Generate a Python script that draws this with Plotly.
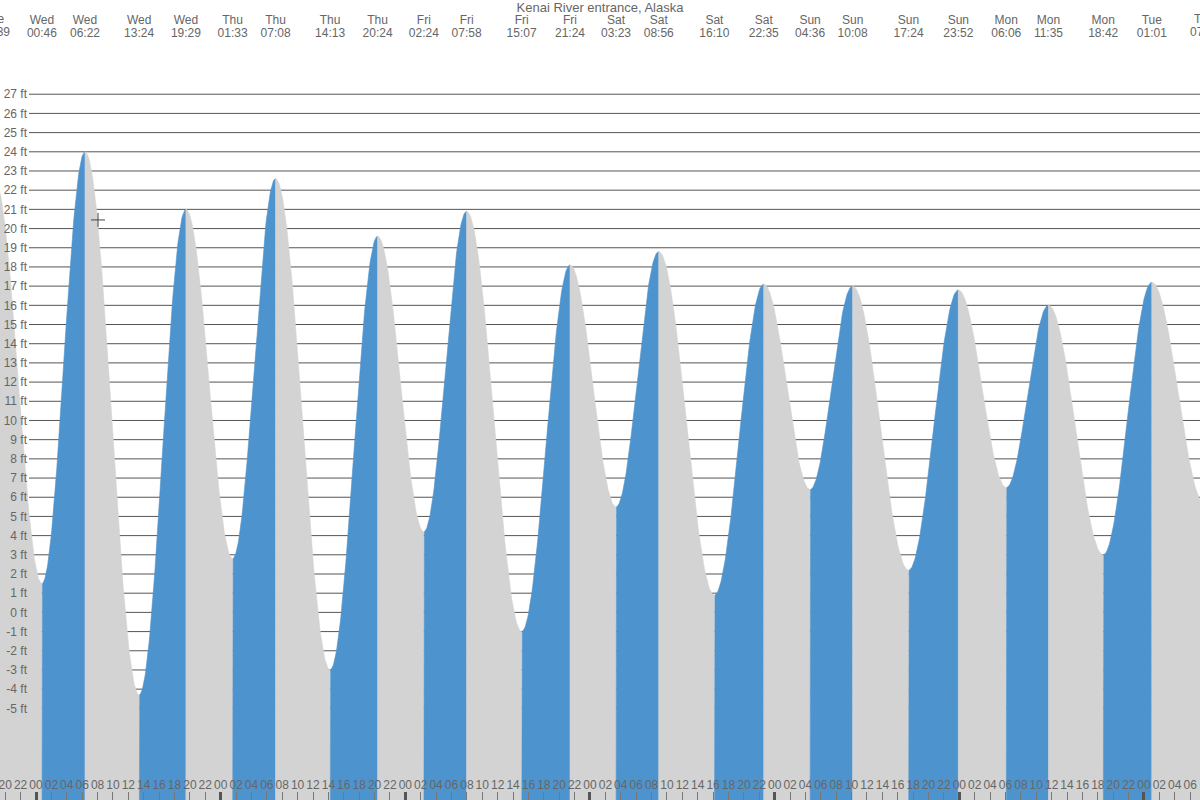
import numpy as np
import plotly.graph_objects as go

# ---------------- data ----------------
title_text = "Kenai River entrance, Alaska"
tide_days = ["Tue", "Wed", "Wed", "Wed", "Wed", "Thu", "Thu", "Thu", "Thu",
             "Fri", "Fri", "Fri", "Fri", "Sat", "Sat", "Sat", "Sat",
             "Sun", "Sun", "Sun", "Sun", "Mon", "Mon", "Mon", "Tue", "Tue"]
tide_times = ["18:39", "00:46", "06:22", "13:24", "19:29", "01:33", "07:08", "14:13", "20:24",
              "02:24", "07:58", "15:07", "21:24", "03:23", "08:56", "16:10", "22:35",
              "04:36", "10:08", "17:24", "23:52", "06:06", "11:35", "18:42", "01:01", "07:55"]
tide_heights = [22.5, 1.5, 24.0, -4.3, 21.0, 2.8, 22.6, -3.0, 19.6,
                4.2, 20.9, -1.0, 18.1, 5.5, 18.8, 0.9, 17.1,
                6.4, 17.0, 2.2, 16.8, 6.5, 16.0, 3.0, 17.2, 5.6]
day_sequence = ["Tue", "Wed", "Thu", "Fri", "Sat", "Sun", "Mon", "Tue"]  # first Wed = day 0
height_ticks = list(range(-5, 28))
cursor_x = [8.06]
cursor_y = [20.45]

# ---------------- layout constants ----------------
W, H = 1200, 800
x_range = [-4.679, 151.28]          # hours since Wed 00:00
y_range = [-9.776, 31.91]           # feet
BLUE = "#4d94cf"
GREY = "#d3d3d3"
TXT = "#666666"
FONT = "Liberation Sans, Arial, sans-serif"

# convert day/time labels to hours since Wed 00:00
hours = []
idx = 0
for d, t in zip(tide_days, tide_times):
    while day_sequence[idx] != d:
        idx += 1
    hh, mm = t.split(":")
    hours.append((idx - 1) * 24 + int(hh) + int(mm) / 60.0)

fig = go.Figure()

# tide curve: rising segments blue, falling grey, filled to the bottom
base = y_range[0] - 5
for i in range(len(hours) - 1):
    t0, t1 = hours[i], hours[i + 1]
    h0, h1 = tide_heights[i], tide_heights[i + 1]
    tt = np.linspace(t0, t1, 80)
    hh = h0 + (h1 - h0) * (1 - np.cos(np.pi * (tt - t0) / (t1 - t0))) / 2
    col = BLUE if h1 > h0 else GREY
    xs = [t0] + list(tt) + [t1]
    ys = [base] + list(hh) + [base]
    fig.add_trace(go.Scatter(x=xs, y=ys, mode="lines", fill="toself", fillcolor=col,
                             line=dict(color=col, width=0.6), hoverinfo="skip",
                             showlegend=False))

# cursor cross
fig.add_trace(go.Scatter(x=cursor_x, y=cursor_y, mode="markers",
                         marker=dict(symbol="cross-thin", size=10,
                                     line=dict(color="#444444", width=1)),
                         hoverinfo="skip", showlegend=False))

# horizontal grid lines (only from the label column to the right edge)
for v in height_ticks:
    fig.add_shape(type="line", xref="paper", yref="y", x0=29 / W, x1=1, y0=v, y1=v,
                  line=dict(color="#555555", width=1), layer="below")

hour_ticks = list(range(-4, 151, 2))
hour_text = [f"{h % 24:02d}" for h in hour_ticks]
midnights = list(range(0, 145, 24))

# split top labels: inside the range -> axis ticks, at the edges -> paper annotations
span = x_range[1] - x_range[0]
in_idx = [i for i, h in enumerate(hours) if x_range[0] <= h <= x_range[1]]
out_idx = [i for i, h in enumerate(hours) if not (x_range[0] <= h <= x_range[1])]

fig.update_layout(
    width=W, height=H,
    margin=dict(l=0, r=0, t=0, b=0, pad=0),
    paper_bgcolor="white", plot_bgcolor="white",
    font=dict(family=FONT, color=TXT, size=12),
    title=dict(text=title_text, x=0.5, xanchor="center", y=1 - 7 / H, yanchor="middle",
               font=dict(size=13, color=TXT, family=FONT)),
    showlegend=False,
    hovermode=False,
    xaxis=dict(range=x_range, tickvals=hour_ticks, ticktext=hour_text, tickangle=0,
               ticks="inside", ticklen=8, tickwidth=1, tickcolor="#777777",
               ticklabelposition="inside", ticklabeloverflow="allow",
               tickfont=dict(size=12, color=TXT),
               showgrid=False, zeroline=False, showline=False, fixedrange=True),
    xaxis2=dict(range=x_range, overlaying="x", anchor="y", side="bottom",
                tickvals=midnights, ticks="inside", ticklen=8, tickwidth=3,
                tickcolor="#555555", showticklabels=False,
                showgrid=False, zeroline=False, showline=False),
    xaxis3=dict(range=x_range, overlaying="x", anchor="free", position=1 - 26 / H,
                side="top", tickvals=[hours[i] for i in in_idx],
                ticktext=[tide_days[i] for i in in_idx], ticks="", tickangle=0,
                tickfont=dict(size=12, color=TXT),
                showgrid=False, zeroline=False, showline=False),
    xaxis4=dict(range=x_range, overlaying="x", anchor="free", position=1 - 39 / H,
                side="top", tickvals=[hours[i] for i in in_idx],
                ticktext=[tide_times[i] for i in in_idx], ticks="", tickangle=0,
                tickfont=dict(size=12, color=TXT),
                showgrid=False, zeroline=False, showline=False),
    yaxis=dict(range=y_range, tickvals=height_ticks,
               ticktext=[f"{v} ft" for v in height_ticks],
               anchor="free", position=27 / W, side="left", ticks="",
               tickfont=dict(size=12, color=TXT),
               showgrid=False, zeroline=False, showline=False, fixedrange=True),
)

# partially visible labels at the left/right edges
for i in out_idx:
    xp = (hours[i] - x_range[0]) / span
    fig.add_annotation(x=xp, xref="paper", y=1 - 19 / H, yref="paper", text=tide_days[i],
                       showarrow=False, xanchor="center", yanchor="middle",
                       font=dict(size=12, color=TXT, family=FONT))
    fig.add_annotation(x=xp, xref="paper", y=1 - 32 / H, yref="paper", text=tide_times[i],
                       showarrow=False, xanchor="center", yanchor="middle",
                       font=dict(size=12, color=TXT, family=FONT))

# attach invisible traces to the extra axes so they render
for ax in ["x2", "x3", "x4"]:
    fig.add_trace(go.Scatter(x=[hours[1]], y=[tide_heights[1]], xaxis=ax, yaxis="y",
                             mode="markers", marker=dict(opacity=0),
                             hoverinfo="skip", showlegend=False))

fig.write_html("out.html",
               config={"displayModeBar": False, "staticPlot": True},
               post_script="document.body.style.margin='0px';document.body.style.overflow='hidden';")
